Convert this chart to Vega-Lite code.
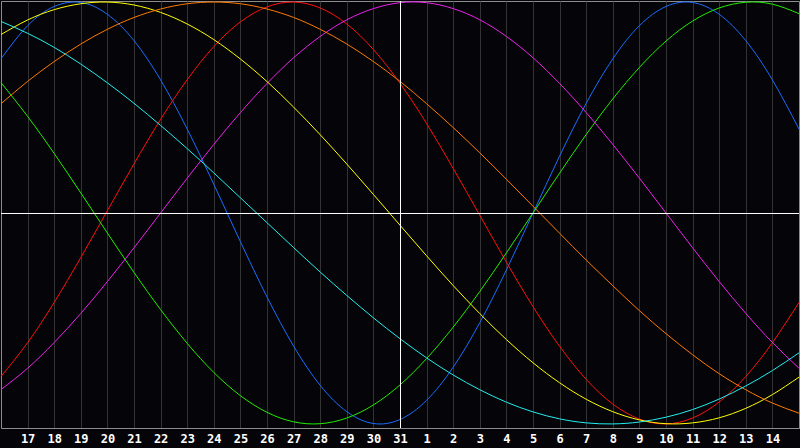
{
  "$schema": "https://vega.github.io/schema/vega-lite/v6.json",
  "description": "Biorhythm-style cycles, 16 Dec to 15 Jan",
  "width": 798,
  "height": 427,
  "autosize": {"type": "none"},
  "padding": {"left": 1, "top": 1, "right": 1, "bottom": 20},
  "background": "#050408",
  "config": {
    "view": {"stroke": "#8c8c8c", "strokeWidth": 1, "fill": "#050408"},
    "axisX": {
      "grid": true,
      "gridColor": "#333333",
      "gridWidth": 1,
      "ticks": false,
      "domainColor": "#8c8c8c",
      "labelColor": "#ffffff",
      "labelFont": "DejaVu Sans Mono",
      "labelFontWeight": "bold",
      "labelFontSize": 12,
      "labelPadding": 5,
      "labelFlush": false,
      "labelOverlap": false
    }
  },
  "data": {
    "values": [
      {"d": 0, "s": "blue", "v": 0.731}, {"d": 1, "s": "blue", "v": 0.888}, {"d": 2, "s": "blue", "v": 0.979}, {"d": 3, "s": "blue", "v": 0.998},
      {"d": 4, "s": "blue", "v": 0.942}, {"d": 5, "s": "blue", "v": 0.817}, {"d": 6, "s": "blue", "v": 0.631}, {"d": 7, "s": "blue", "v": 0.398},
      {"d": 8, "s": "blue", "v": 0.136}, {"d": 9, "s": "blue", "v": -0.136}, {"d": 10, "s": "blue", "v": -0.398}, {"d": 11, "s": "blue", "v": -0.631},
      {"d": 12, "s": "blue", "v": -0.817}, {"d": 13, "s": "blue", "v": -0.942}, {"d": 14, "s": "blue", "v": -0.998}, {"d": 15, "s": "blue", "v": -0.979},
      {"d": 16, "s": "blue", "v": -0.888}, {"d": 17, "s": "blue", "v": -0.731}, {"d": 18, "s": "blue", "v": -0.52}, {"d": 19, "s": "blue", "v": -0.27},
      {"d": 20, "s": "blue", "v": 0.0}, {"d": 21, "s": "blue", "v": 0.27}, {"d": 22, "s": "blue", "v": 0.52}, {"d": 23, "s": "blue", "v": 0.731},
      {"d": 24, "s": "blue", "v": 0.888}, {"d": 25, "s": "blue", "v": 0.979}, {"d": 26, "s": "blue", "v": 0.998}, {"d": 27, "s": "blue", "v": 0.942},
      {"d": 28, "s": "blue", "v": 0.817}, {"d": 29, "s": "blue", "v": 0.631}, {"d": 30, "s": "blue", "v": 0.398},

      {"d": 0, "s": "red", "v": -0.775}, {"d": 1, "s": "red", "v": -0.615}, {"d": 2, "s": "red", "v": -0.424}, {"d": 3, "s": "red", "v": -0.211},
      {"d": 4, "s": "red", "v": 0.011}, {"d": 5, "s": "red", "v": 0.233}, {"d": 6, "s": "red", "v": 0.444}, {"d": 7, "s": "red", "v": 0.632},
      {"d": 8, "s": "red", "v": 0.789}, {"d": 9, "s": "red", "v": 0.906}, {"d": 10, "s": "red", "v": 0.977}, {"d": 11, "s": "red", "v": 1.0},
      {"d": 12, "s": "red", "v": 0.972}, {"d": 13, "s": "red", "v": 0.896}, {"d": 14, "s": "red", "v": 0.775}, {"d": 15, "s": "red", "v": 0.615},
      {"d": 16, "s": "red", "v": 0.424}, {"d": 17, "s": "red", "v": 0.211}, {"d": 18, "s": "red", "v": -0.011}, {"d": 19, "s": "red", "v": -0.233},
      {"d": 20, "s": "red", "v": -0.444}, {"d": 21, "s": "red", "v": -0.632}, {"d": 22, "s": "red", "v": -0.789}, {"d": 23, "s": "red", "v": -0.906},
      {"d": 24, "s": "red", "v": -0.977}, {"d": 25, "s": "red", "v": -1.0}, {"d": 26, "s": "red", "v": -0.972}, {"d": 27, "s": "red", "v": -0.896},
      {"d": 28, "s": "red", "v": -0.775}, {"d": 29, "s": "red", "v": -0.615}, {"d": 30, "s": "red", "v": -0.424},

      {"d": 0, "s": "green", "v": 0.618}, {"d": 1, "s": "green", "v": 0.458}, {"d": 2, "s": "green", "v": 0.282}, {"d": 3, "s": "green", "v": 0.095},
      {"d": 4, "s": "green", "v": -0.095}, {"d": 5, "s": "green", "v": -0.282}, {"d": 6, "s": "green", "v": -0.458}, {"d": 7, "s": "green", "v": -0.618},
      {"d": 8, "s": "green", "v": -0.756}, {"d": 9, "s": "green", "v": -0.866}, {"d": 10, "s": "green", "v": -0.945}, {"d": 11, "s": "green", "v": -0.99},
      {"d": 12, "s": "green", "v": -0.999}, {"d": 13, "s": "green", "v": -0.972}, {"d": 14, "s": "green", "v": -0.91}, {"d": 15, "s": "green", "v": -0.815},
      {"d": 16, "s": "green", "v": -0.69}, {"d": 17, "s": "green", "v": -0.541}, {"d": 18, "s": "green", "v": -0.372}, {"d": 19, "s": "green", "v": -0.189},
      {"d": 20, "s": "green", "v": 0.0}, {"d": 21, "s": "green", "v": 0.189}, {"d": 22, "s": "green", "v": 0.372}, {"d": 23, "s": "green", "v": 0.541},
      {"d": 24, "s": "green", "v": 0.69}, {"d": 25, "s": "green", "v": 0.815}, {"d": 26, "s": "green", "v": 0.91}, {"d": 27, "s": "green", "v": 0.972},
      {"d": 28, "s": "green", "v": 0.999}, {"d": 29, "s": "green", "v": 0.99}, {"d": 30, "s": "green", "v": 0.945},

      {"d": 0, "s": "magenta", "v": -0.837}, {"d": 1, "s": "magenta", "v": -0.736}, {"d": 2, "s": "magenta", "v": -0.614}, {"d": 3, "s": "magenta", "v": -0.476},
      {"d": 4, "s": "magenta", "v": -0.325}, {"d": 5, "s": "magenta", "v": -0.165}, {"d": 6, "s": "magenta", "v": 0.0}, {"d": 7, "s": "magenta", "v": 0.165},
      {"d": 8, "s": "magenta", "v": 0.325}, {"d": 9, "s": "magenta", "v": 0.476}, {"d": 10, "s": "magenta", "v": 0.614}, {"d": 11, "s": "magenta", "v": 0.736},
      {"d": 12, "s": "magenta", "v": 0.837}, {"d": 13, "s": "magenta", "v": 0.916}, {"d": 14, "s": "magenta", "v": 0.969}, {"d": 15, "s": "magenta", "v": 0.997},
      {"d": 16, "s": "magenta", "v": 0.997}, {"d": 17, "s": "magenta", "v": 0.969}, {"d": 18, "s": "magenta", "v": 0.916}, {"d": 19, "s": "magenta", "v": 0.837},
      {"d": 20, "s": "magenta", "v": 0.736}, {"d": 21, "s": "magenta", "v": 0.614}, {"d": 22, "s": "magenta", "v": 0.476}, {"d": 23, "s": "magenta", "v": 0.325},
      {"d": 24, "s": "magenta", "v": 0.165}, {"d": 25, "s": "magenta", "v": 0.0}, {"d": 26, "s": "magenta", "v": -0.165}, {"d": 27, "s": "magenta", "v": -0.325},
      {"d": 28, "s": "magenta", "v": -0.476}, {"d": 29, "s": "magenta", "v": -0.614}, {"d": 30, "s": "magenta", "v": -0.736},

      {"d": 0, "s": "yellow", "v": 0.846}, {"d": 1, "s": "yellow", "v": 0.915}, {"d": 2, "s": "yellow", "v": 0.964}, {"d": 3, "s": "yellow", "v": 0.992},
      {"d": 4, "s": "yellow", "v": 1.0}, {"d": 5, "s": "yellow", "v": 0.986}, {"d": 6, "s": "yellow", "v": 0.951}, {"d": 7, "s": "yellow", "v": 0.896},
      {"d": 8, "s": "yellow", "v": 0.822}, {"d": 9, "s": "yellow", "v": 0.73}, {"d": 10, "s": "yellow", "v": 0.623}, {"d": 11, "s": "yellow", "v": 0.502},
      {"d": 12, "s": "yellow", "v": 0.371}, {"d": 13, "s": "yellow", "v": 0.232}, {"d": 14, "s": "yellow", "v": 0.088}, {"d": 15, "s": "yellow", "v": -0.058},
      {"d": 16, "s": "yellow", "v": -0.203}, {"d": 17, "s": "yellow", "v": -0.344}, {"d": 18, "s": "yellow", "v": -0.477}, {"d": 19, "s": "yellow", "v": -0.6},
      {"d": 20, "s": "yellow", "v": -0.71}, {"d": 21, "s": "yellow", "v": -0.805}, {"d": 22, "s": "yellow", "v": -0.883}, {"d": 23, "s": "yellow", "v": -0.942},
      {"d": 24, "s": "yellow", "v": -0.981}, {"d": 25, "s": "yellow", "v": -0.999}, {"d": 26, "s": "yellow", "v": -0.995}, {"d": 27, "s": "yellow", "v": -0.971},
      {"d": 28, "s": "yellow", "v": -0.926}, {"d": 29, "s": "yellow", "v": -0.861}, {"d": 30, "s": "yellow", "v": -0.778},

      {"d": 0, "s": "orange", "v": 0.518}, {"d": 1, "s": "orange", "v": 0.624}, {"d": 2, "s": "orange", "v": 0.718}, {"d": 3, "s": "orange", "v": 0.801},
      {"d": 4, "s": "orange", "v": 0.871}, {"d": 5, "s": "orange", "v": 0.927}, {"d": 6, "s": "orange", "v": 0.967}, {"d": 7, "s": "orange", "v": 0.992},
      {"d": 8, "s": "orange", "v": 1.0}, {"d": 9, "s": "orange", "v": 0.992}, {"d": 10, "s": "orange", "v": 0.967}, {"d": 11, "s": "orange", "v": 0.927},
      {"d": 12, "s": "orange", "v": 0.871}, {"d": 13, "s": "orange", "v": 0.801}, {"d": 14, "s": "orange", "v": 0.718}, {"d": 15, "s": "orange", "v": 0.624},
      {"d": 16, "s": "orange", "v": 0.518}, {"d": 17, "s": "orange", "v": 0.405}, {"d": 18, "s": "orange", "v": 0.285}, {"d": 19, "s": "orange", "v": 0.16},
      {"d": 20, "s": "orange", "v": 0.032}, {"d": 21, "s": "orange", "v": -0.096}, {"d": 22, "s": "orange", "v": -0.223}, {"d": 23, "s": "orange", "v": -0.345},
      {"d": 24, "s": "orange", "v": -0.463}, {"d": 25, "s": "orange", "v": -0.572}, {"d": 26, "s": "orange", "v": -0.672}, {"d": 27, "s": "orange", "v": -0.762},
      {"d": 28, "s": "orange", "v": -0.838}, {"d": 29, "s": "orange", "v": -0.901}, {"d": 30, "s": "orange", "v": -0.949},

      {"d": 0, "s": "cyan", "v": 0.908}, {"d": 1, "s": "cyan", "v": 0.852}, {"d": 2, "s": "cyan", "v": 0.785}, {"d": 3, "s": "cyan", "v": 0.706},
      {"d": 4, "s": "cyan", "v": 0.617}, {"d": 5, "s": "cyan", "v": 0.52}, {"d": 6, "s": "cyan", "v": 0.415}, {"d": 7, "s": "cyan", "v": 0.305},
      {"d": 8, "s": "cyan", "v": 0.19}, {"d": 9, "s": "cyan", "v": 0.072}, {"d": 10, "s": "cyan", "v": -0.046}, {"d": 11, "s": "cyan", "v": -0.164},
      {"d": 12, "s": "cyan", "v": -0.28}, {"d": 13, "s": "cyan", "v": -0.391}, {"d": 14, "s": "cyan", "v": -0.497}, {"d": 15, "s": "cyan", "v": -0.596},
      {"d": 16, "s": "cyan", "v": -0.687}, {"d": 17, "s": "cyan", "v": -0.768}, {"d": 18, "s": "cyan", "v": -0.838}, {"d": 19, "s": "cyan", "v": -0.897},
      {"d": 20, "s": "cyan", "v": -0.943}, {"d": 21, "s": "cyan", "v": -0.976}, {"d": 22, "s": "cyan", "v": -0.995}, {"d": 23, "s": "cyan", "v": -1.0},
      {"d": 24, "s": "cyan", "v": -0.991}, {"d": 25, "s": "cyan", "v": -0.968}, {"d": 26, "s": "cyan", "v": -0.932}, {"d": 27, "s": "cyan", "v": -0.882},
      {"d": 28, "s": "cyan", "v": -0.82}, {"d": 29, "s": "cyan", "v": -0.747}, {"d": 30, "s": "cyan", "v": -0.663}
    ]
  },
  "layer": [
    {
      "mark": {"type": "line", "strokeWidth": 1, "interpolate": "natural"},
      "encoding": {
        "x": {
          "field": "d",
          "type": "quantitative",
          "title": null,
          "scale": {"domain": [0, 30], "nice": false, "zero": false},
          "axis": {
            "values": [1, 2, 3, 4, 5, 6, 7, 8, 9, 10, 11, 12, 13, 14, 15, 16, 17, 18, 19, 20, 21, 22, 23, 24, 25, 26, 27, 28, 29],
            "tickCount": 60,
            "labelExpr": "datum.value <= 15 ? datum.value + 16 : datum.value - 15",
            "labelOverlap": false,
            "labelBound": false
          }
        },
        "y": {
          "field": "v",
          "type": "quantitative",
          "scale": {"domain": [-1.0193, 1.005], "nice": false, "zero": false},
          "axis": null
        },
        "color": {
          "field": "s",
          "type": "nominal",
          "scale": {
            "domain": ["cyan", "yellow", "orange", "magenta", "green", "blue", "red"],
            "range": ["#22eeee", "#ffff00", "#ff7a00", "#ee22ee", "#22ee00", "#1a6eff", "#ff1010"]
          },
          "legend": null
        }
      }
    },
    {
      "data": {"values": [{"d": 15}]},
      "mark": {"type": "rule", "color": "#ffffff", "strokeWidth": 1, "xOffset": 0.5},
      "encoding": {"x": {"field": "d", "type": "quantitative"}}
    },
    {
      "data": {"values": [{"v": 0}]},
      "mark": {"type": "rule", "color": "#ffffff", "strokeWidth": 1, "yOffset": 0.5},
      "encoding": {"y": {"field": "v", "type": "quantitative"}}
    }
  ]
}
